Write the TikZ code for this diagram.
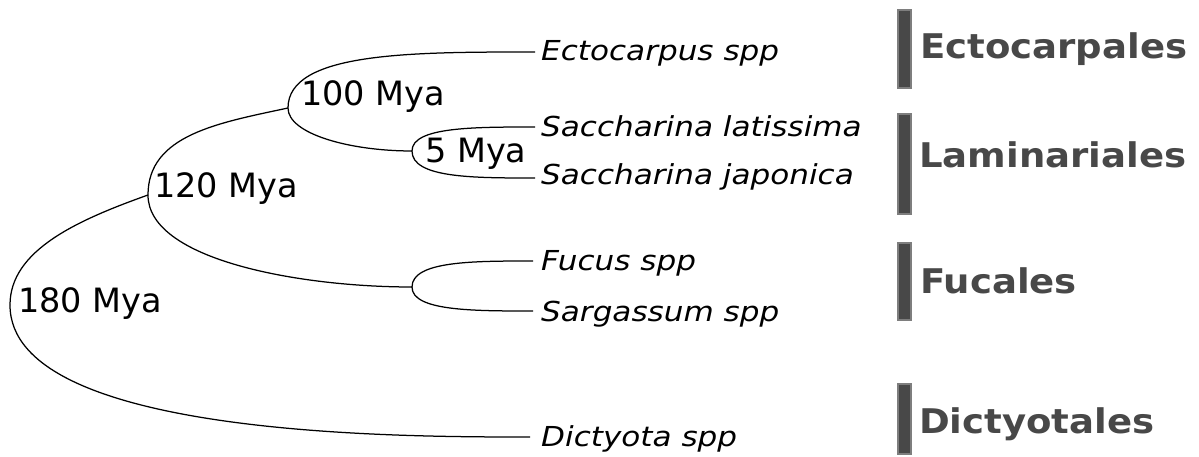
\documentclass[tikz,border=0pt]{standalone}
\usepackage{fontspec}
\setmainfont{DejaVu Sans}
\newfontfamily\spfont{DejaVu Sans}[FakeStretch=1.13]
\newfontfamily\ordfont{DejaVu Sans}[FakeStretch=1.09]
\definecolor{ordgray}{HTML}{484848}
\definecolor{barline}{HTML}{7E7E7E}
\begin{document}
\begin{tikzpicture}[x=1pt,y=-1pt,
  branch/.style={line width=1.25pt,black},
  mya/.style={anchor=base west,inner sep=0pt,font=\fontsize{33.5}{40}\selectfont},
  species/.style={anchor=base west,inner sep=0pt,font=\spfont\itshape\fontsize{27.5}{33}\selectfont},
  order/.style={anchor=base west,inner sep=0pt,text=ordgray,font=\ordfont\bfseries\fontsize{34}{40}\selectfont},
  bar/.style={fill=ordgray,draw=barline,line width=2pt}]
\useasboundingbox (0,0) rectangle (1199,457);
% internal nodes
\coordinate (R) at (10,305);
\coordinate (N120) at (148,195);
\coordinate (N100) at (288,108);
\coordinate (N5) at (412,151);
\coordinate (NF) at (412,287);
% leaf ends
\coordinate (L1) at (535,52);
\coordinate (L2) at (535,127);
\coordinate (L3) at (535,178);
\coordinate (L4) at (533,261);
\coordinate (L5) at (533,311);
\coordinate (L6) at (530,437);
% branches
\draw[branch] (R) .. controls +(0,-55) and +(-70,25) .. (N120);
\draw[branch] (R) .. controls +(0,132) and +(-130,0) .. (L6);
\draw[branch] (N120) .. controls +(0,-60) and +(-70,15) .. (N100);
\draw[branch] (N120) .. controls +(0,65) and +(-112,0) .. (NF);
\draw[branch] (N100) .. controls +(0,-56) and +(-124,0) .. (L1);
\draw[branch] (N100) .. controls +(0,26) and +(-62,0) .. (N5);
\draw[branch] (N5) .. controls +(0,-24) and +(-62,0) .. (L2);
\draw[branch] (N5) .. controls +(0,27) and +(-62,0) .. (L3);
\draw[branch] (NF) .. controls +(0,-26) and +(-60,0) .. (L4);
\draw[branch] (NF) .. controls +(0,24) and +(-60,0) .. (L5);
% age labels
\node[mya] (t100) at (301,106) {100 Mya};
\node[mya] (t5) at (425,163) {5 Mya};
\node[mya] (t120) at (154,198) {120 Mya};
\node[mya] (t180) at (18,312) {180 Mya};
% species
\node[species] (s1) at (541,61) {Ectocarpus spp};
\node[species] (s2) at (541,137) {Saccharina latissima};
\node[species] (s3) at (541,185) {Saccharina japonica};
\node[species] (s4) at (541,270) {Fucus spp};
\node[species] (s5) at (541,321) {Sargassum spp};
\node[species] (s6) at (541,446) {Dictyota spp};
% order bars
\node[bar,minimum width=13pt,minimum height=78pt,inner sep=0pt] (b1) at (904,49) {};
\node[bar,minimum width=13pt,minimum height=100pt,inner sep=0pt] (b2) at (904,164) {};
\node[bar,minimum width=13pt,minimum height=77pt,inner sep=0pt] (b3) at (904,281.5) {};
\node[bar,minimum width=13pt,minimum height=70pt,inner sep=0pt] (b4) at (904,419) {};
% order labels
\node[order] (o1) at (920,59) {Ectocarpales};
\node[order] (o2) at (919,168) {Laminariales};
\node[order] (o3) at (920,293) {Fucales};
\node[order] (o4) at (919,433) {Dictyotales};
\end{tikzpicture}
\end{document}
